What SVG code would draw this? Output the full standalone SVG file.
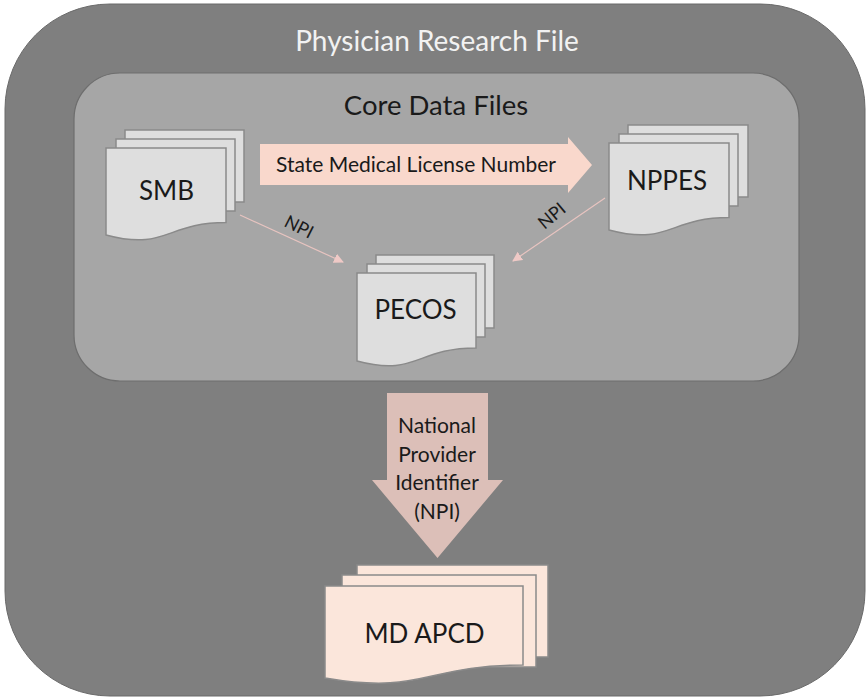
<svg xmlns="http://www.w3.org/2000/svg" width="867" height="698" viewBox="0 0 867 698">
<defs>
<style>
.gp{fill:#dedede;stroke:#8a8a8a;stroke-width:1.5}
.pk{fill:#fbe6db;stroke:#8a8a8a;stroke-width:1.5}
.lbl{font-family:Lato,"Liberation Sans",sans-serif;fill:#1a1a1a;text-anchor:middle}
.con{stroke:#e8c4c0;stroke-width:1.2;fill:none}
</style>
<marker id="ah" viewBox="0 0 10 10" refX="9" refY="5" markerWidth="10" markerHeight="10" markerUnits="userSpaceOnUse" orient="auto">
<path d="M0,0 L10,5 L0,10 Z" fill="#efc9c6"/>
</marker>
</defs>
<rect x="0" y="0" width="867" height="698" fill="#ffffff"/>
<g id="physician-research-file">
<rect x="5" y="4" width="860" height="692" rx="105" ry="105" fill="#7f7f7f" stroke="#6a6a6a" stroke-width="1"/>
<text x="437" y="51" font-family="Lato,'Liberation Sans',sans-serif" font-size="28" fill="#f2f2f2" text-anchor="middle">Physician Research File</text>
</g>
<g id="core-data-files">
<rect x="74" y="73" width="725" height="308" rx="46" ry="46" fill="#a6a6a6" stroke="#6e6e6e" stroke-width="1.2"/>
<text x="436" y="115" class="lbl" font-size="27.5">Core Data Files</text>
</g>
<g id="connectors">
<path d="M260,144 H568 V137 L592,165 L568,193 V185 H260 Z" fill="#f9d8cc"/>
<text x="416" y="172" class="lbl" font-size="21">State Medical License Number</text>
<line class="con" x1="240" y1="215" x2="343" y2="262" marker-end="url(#ah)"/>
<text x="299" y="233" class="lbl" font-size="18" transform="rotate(27 299 227)">NPI</text>
<line class="con" x1="605" y1="198" x2="513" y2="261" marker-end="url(#ah)"/>
<text x="552" y="222" class="lbl" font-size="18" transform="rotate(-40 552 216)">NPI</text>
<path d="M387,393 H488 V480 H503 L437.5,558 L372,480 H387 Z" fill="#dcbfb8"/>
<text class="lbl" font-size="21"><tspan x="437" y="433">National</tspan><tspan x="437" y="462">Provider</tspan><tspan x="437" y="490">Identifier</tspan><tspan x="437" y="519">(NPI)</tspan></text>
</g>
<g id="smb">
<rect class="gp" x="125" y="130" width="119" height="72"/>
<rect class="gp" x="116" y="139" width="119" height="72"/>
<path class="gp" d="M106,148 H226 V222.6 C166,222.6 166,251 106,235 Z"/>
<text x="166.5" y="200" class="lbl" font-size="26">SMB</text>
</g>
<g id="nppes">
<rect class="gp" x="628" y="125" width="120" height="72"/>
<rect class="gp" x="619" y="134" width="119" height="72"/>
<path class="gp" d="M609,143 H729 V217.6 C669,217.6 669,246 609,230 Z"/>
<text x="667" y="190" class="lbl" font-size="26">NPPES</text>
</g>
<g id="pecos">
<rect class="gp" x="376" y="255" width="118" height="73"/>
<rect class="gp" x="367" y="264" width="118" height="73"/>
<path class="gp" d="M357,273 H476 V348 C416,348 416,377 357,361 Z"/>
<text x="415.5" y="319" class="lbl" font-size="26">PECOS</text>
</g>
<g id="md-apcd">
<rect class="pk" x="357" y="565" width="191" height="92"/>
<rect class="pk" x="342" y="575" width="194" height="92"/>
<path class="pk" d="M325,586 H523 V665 C424,665 424,695 325,678 Z"/>
<text x="424.5" y="643" class="lbl" font-size="26">MD APCD</text>
</g>
</svg>
